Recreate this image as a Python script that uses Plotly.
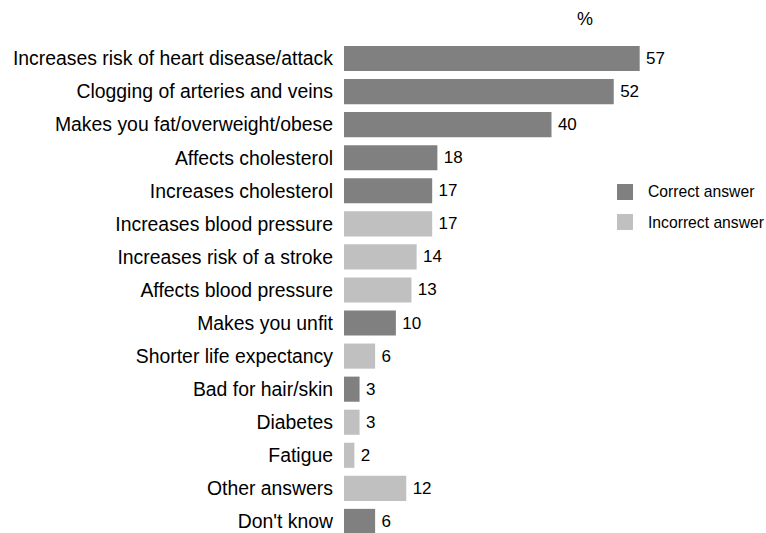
import plotly.graph_objects as go

categories = [
    "Increases risk of heart disease/attack",
    "Clogging of arteries and veins",
    "Makes you fat/overweight/obese",
    "Affects cholesterol",
    "Increases cholesterol",
    "Increases blood pressure",
    "Increases risk of a stroke",
    "Affects blood pressure",
    "Makes you unfit",
    "Shorter life expectancy",
    "Bad for hair/skin",
    "Diabetes",
    "Fatigue",
    "Other answers",
    "Don't know",
]
values = [57, 52, 40, 18, 17, 17, 14, 13, 10, 6, 3, 3, 2, 12, 6]
answer_type = ["Correct", "Correct", "Correct", "Correct", "Correct",
               "Incorrect", "Incorrect", "Incorrect", "Correct", "Incorrect",
               "Correct", "Incorrect", "Incorrect", "Incorrect", "Correct"]

colors = {"Correct": "#808080", "Incorrect": "#c0c0c0"}
legend_names = {"Correct": "Correct answer", "Incorrect": "Incorrect answer"}

FONT = "Liberation Sans, Arial, sans-serif"

# figure geometry in page pixels (body margin is removed below)
W, H = 766, 533
ML, MR, MT, MB = 344, 7, 42, 0
PW, PH = W - ML - MR, H - MT - MB


def px(x):
    return (x - ML) / PW


def py(y):
    return 1 - (y - MT) / PH


fig = go.Figure()

for kind in ["Correct", "Incorrect"]:
    ys = [i for i, t in enumerate(answer_type) if t == kind]
    xs = [values[i] for i in ys]
    fig.add_trace(go.Bar(
        x=xs, y=ys, orientation="h", name=legend_names[kind],
        marker=dict(color=colors[kind], line=dict(width=0)),
        width=0.76,
        text=["\u2009" + str(v) for v in xs], textposition="outside",
        textfont=dict(size=17, color="black", family=FONT),
        cliponaxis=False, showlegend=False, hoverinfo="skip",
    ))

# "%" header
fig.add_annotation(text="%", x=px(585), y=py(18.5), xref="paper", yref="paper",
                   xanchor="center", yanchor="middle", showarrow=False,
                   font=dict(size=18, color="black", family=FONT))

# legend drawn by hand so it can sit right at the edge
for row, kind in enumerate(["Correct", "Incorrect"]):
    top = 184 + row * 30
    fig.add_shape(type="rect", xref="paper", yref="paper",
                  x0=px(617), x1=px(633), y0=py(top + 16), y1=py(top),
                  fillcolor=colors[kind], line=dict(width=0))
    fig.add_annotation(text=legend_names[kind], x=px(646), y=py(top + 8),
                       xref="paper", yref="paper", xanchor="left", yanchor="middle",
                       showarrow=False, font=dict(size=15.7, color="black", family=FONT))

fig.update_layout(
    width=W, height=H,
    margin=dict(l=ML, r=MR, t=MT, b=MB),
    paper_bgcolor="white", plot_bgcolor="white",
    barmode="overlay", showlegend=False,
    font=dict(family=FONT, size=19, color="black"),
)
fig.update_xaxes(range=[0, 80], visible=False)
fig.update_yaxes(range=[14.35, -0.5], tickvals=list(range(len(categories))),
                 ticktext=categories, showgrid=False, zeroline=False,
                 showline=False, ticks="", ticklabelstandoff=10,
                 tickfont=dict(size=19.4, family=FONT))

fig.write_html("out.html", config={"displayModeBar": False},
               post_script="document.body.style.margin='0';")
